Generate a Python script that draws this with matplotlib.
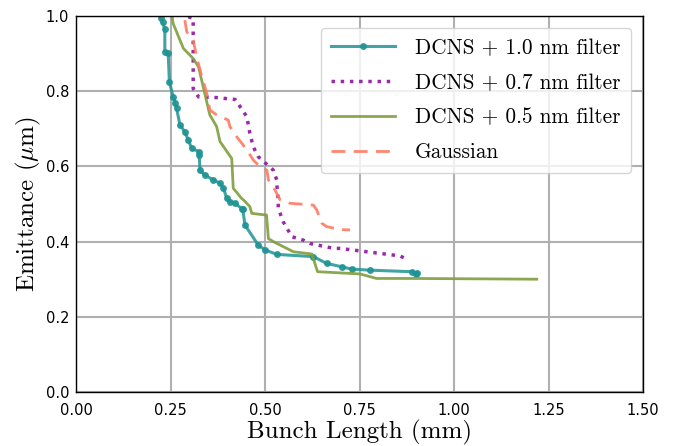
import matplotlib
matplotlib.use("Agg")
import matplotlib.pyplot as plt

plt.rcParams['mathtext.fontset'] = 'cm'
plt.rcParams['axes.unicode_minus'] = False

# DCNS + 1.0 nm filter (teal, with markers)
x_10 = [0.224, 0.229, 0.235, 0.235, 0.244, 0.247, 0.257, 0.262, 0.266, 0.275, 0.288,
        0.297, 0.306, 0.326, 0.326, 0.328, 0.341, 0.363, 0.381, 0.390, 0.399, 0.407,
        0.421, 0.438, 0.441, 0.447, 0.482, 0.500, 0.531, 0.628, 0.663, 0.703, 0.729,
        0.778, 0.888, 0.899, 0.901]
y_10 = [0.994, 0.985, 0.965, 0.905, 0.901, 0.825, 0.785, 0.768, 0.755, 0.710, 0.692,
        0.670, 0.648, 0.639, 0.630, 0.590, 0.577, 0.564, 0.555, 0.542, 0.515, 0.506,
        0.502, 0.488, 0.487, 0.444, 0.391, 0.378, 0.366, 0.360, 0.342, 0.333, 0.327,
        0.324, 0.320, 0.313, 0.316]

# DCNS + 0.7 nm filter (purple, dotted)
x_07 = [0.297, 0.310, 0.310, 0.310, 0.324, 0.372, 0.421, 0.434, 0.452, 0.460, 0.469,
        0.482, 0.522, 0.531, 0.531, 0.535, 0.535, 0.548, 0.571, 0.601, 0.619, 0.681,
        0.698, 0.769, 0.857, 0.879]
y_07 = [0.998, 0.994, 0.865, 0.807, 0.785, 0.783, 0.778, 0.759, 0.732, 0.688, 0.652,
        0.626, 0.590, 0.564, 0.555, 0.511, 0.489, 0.453, 0.413, 0.404, 0.395, 0.382,
        0.382, 0.373, 0.362, 0.351]

# DCNS + 0.5 nm filter (olive)
x_05 = [0.254, 0.257, 0.284, 0.310, 0.324, 0.354, 0.372, 0.381, 0.412, 0.416, 0.438,
        0.443, 0.460, 0.465, 0.500, 0.504, 0.509, 0.522, 0.575, 0.624, 0.639, 0.751,
        0.795, 0.884, 1.219]
y_05 = [1.000, 0.980, 0.914, 0.887, 0.865, 0.737, 0.706, 0.666, 0.621, 0.542, 0.515,
        0.511, 0.493, 0.475, 0.471, 0.471, 0.408, 0.400, 0.373, 0.367, 0.320, 0.314,
        0.302, 0.302, 0.300]

# Gaussian (coral, dashed)
x_g = [0.288, 0.293, 0.310, 0.319, 0.333, 0.346, 0.354, 0.372, 0.403, 0.407, 0.425,
       0.452, 0.469, 0.487, 0.505, 0.509, 0.522, 0.531, 0.540, 0.566, 0.628, 0.637,
       0.650, 0.663, 0.698, 0.725]
y_g = [0.989, 0.958, 0.936, 0.892, 0.839, 0.794, 0.750, 0.737, 0.723, 0.706, 0.679,
       0.644, 0.617, 0.599, 0.590, 0.564, 0.546, 0.528, 0.511, 0.502, 0.497, 0.484,
       0.449, 0.440, 0.432, 0.431]

labels = ['DCNS + 1.0 nm filter', 'DCNS + 0.7 nm filter', 'DCNS + 0.5 nm filter', 'Gaussian']

fig = plt.figure(figsize=(6.89, 4.46), dpi=100)
ax = fig.add_axes([76 / 689, 54 / 446, 567 / 689, 376 / 446])

ax.plot(x_10, y_10, '-o', color='#1f9393', lw=2.2, ms=4, alpha=0.85, label=labels[0])
ax.plot(x_07, y_07, ':', color='#9a2aac', lw=2.5, label=labels[1])
ax.plot(x_05, y_05, '-', color='#7f9e3c', lw=2, alpha=0.9, label=labels[2])
ax.plot(x_g, y_g, '--', color='#ff7a62', lw=2, alpha=0.9, dashes=(5, 3), label=labels[3])

ax.set_xlim(0, 1.5)
ax.set_ylim(0, 1.0)
ax.set_xticks([0, 0.25, 0.5, 0.75, 1.0, 1.25, 1.5])
ax.set_yticks([0, 0.2, 0.4, 0.6, 0.8, 1.0])
ax.set_xticklabels(['0.00', '0.25', '0.50', '0.75', '1.00', '1.25', '1.50'])
ax.set_yticklabels(['0.0', '0.2', '0.4', '0.6', '0.8', '1.0'])
ax.tick_params(length=0, labelsize=10.5)
ax.tick_params(axis='x', pad=8)
ax.tick_params(axis='y', pad=5)
ax.grid(True, color='#b0b0b0', lw=1.5)
ax.set_axisbelow(True)
for s in ax.spines.values():
    s.set_color('black')
    s.set_linewidth(1)

ax.set_xlabel('Bunch Length (mm)', family='cmr10', fontsize=18, labelpad=1)
ax.set_ylabel(r'Emittance ($\mu$m)', family='cmr10', fontsize=18, labelpad=2)

leg = ax.legend(loc='upper right', prop={'family': 'cmr10', 'size': 15.3}, numpoints=1,
                handlelength=3.0, handletextpad=0.95, borderaxespad=0.55, borderpad=0.5,
                labelspacing=0.72, fancybox=True, framealpha=0.8)
leg.get_frame().set_edgecolor('#cccccc')

fig.savefig('out.png', dpi=100)
